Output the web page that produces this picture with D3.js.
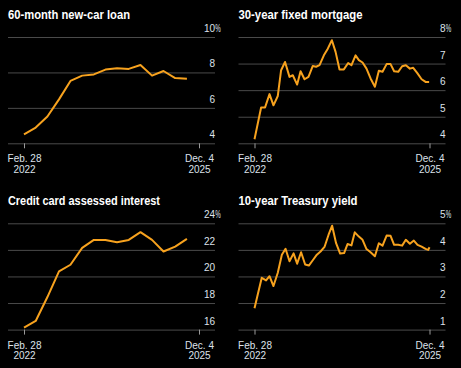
<!DOCTYPE html>
<html>
<head>
<meta charset="utf-8">
<script src="https://cdn.jsdelivr.net/npm/d3@7"></script>
<style>
  html, body { margin: 0; padding: 0; background: #000; }
  svg { display: block; font-family: "Liberation Sans", Arial, sans-serif; }
</style>
</head>
<body>
<div id="chart"></div>
<script>
// quarterly series (car loan, credit card)
const quarterDates = ["2022-02-28", "2022-05-31", "2022-08-31", "2022-11-30",
  "2023-02-28", "2023-05-31", "2023-08-31", "2023-11-30",
  "2024-02-29", "2024-05-31", "2024-08-31", "2024-11-30",
  "2025-02-28", "2025-05-31", "2025-08-31"]
const carLoan = [4.51, 4.89, 5.51, 6.48, 7.52, 7.82, 7.89, 8.16, 8.23, 8.2, 8.42, 7.82, 8.08, 7.68, 7.65]
const creditCard = [16.15, 16.65, 18.45, 20.38, 20.88, 22.15, 22.75, 22.75, 22.58, 22.75, 23.33, 22.75, 21.88, 22.25, 22.83]

// 30-year fixed mortgage
const mortgageDates = ["2022-02-28", "2022-04-21", "2022-05-22", "2022-06-26", "2022-07-27", "2022-08-30",
  "2022-09-25", "2022-10-26", "2022-11-30", "2022-12-26", "2023-01-29", "2023-02-25", "2023-03-28",
  "2023-04-28", "2023-06-01", "2023-06-27", "2023-07-24", "2023-08-27", "2023-09-27", "2023-10-29",
  "2023-11-27", "2023-12-28", "2024-01-31", "2024-03-05", "2024-03-31", "2024-05-02", "2024-05-28",
  "2024-06-26", "2024-07-27", "2024-08-28", "2024-10-01", "2024-11-01", "2024-11-30", "2025-01-01",
  "2025-02-01", "2025-03-01", "2025-04-02", "2025-05-03", "2025-06-01", "2025-07-03", "2025-07-29",
  "2025-08-29", "2025-10-03", "2025-11-03", "2025-12-01"]
const mortgage = [4.15, 5.35, 5.35, 5.85, 5.43, 5.78, 6.75, 7.06, 6.5, 6.56, 6.21, 6.71, 6.41,
  6.5, 6.91, 6.88, 6.94, 7.31, 7.56, 7.88, 7.44, 6.78, 6.78, 7.02, 6.94, 7.31, 7.13,
  7.04, 6.81, 6.44, 6.13, 6.73, 6.69, 6.98, 6.98, 6.71, 6.69, 6.9, 6.94, 6.81, 6.84,
  6.65, 6.41, 6.31, 6.31]

// 10-year Treasury yield
const treasuryDates = ["2022-02-28", "2022-03-26", "2022-04-26", "2022-05-30", "2022-06-26", "2022-07-27",
  "2022-08-30", "2022-10-01", "2022-10-30", "2022-11-30", "2023-01-01", "2023-01-29", "2023-03-01",
  "2023-04-02", "2023-05-01", "2023-06-01", "2023-07-03", "2023-08-01", "2023-09-01", "2023-10-03",
  "2023-10-31", "2023-12-01", "2024-01-02", "2024-02-02", "2024-02-29", "2024-03-31", "2024-04-26",
  "2024-05-28", "2024-06-26", "2024-07-27", "2024-08-28", "2024-10-01", "2024-11-01", "2024-11-30",
  "2025-01-01", "2025-02-01", "2025-03-01", "2025-04-02", "2025-05-03", "2025-06-01", "2025-07-03",
  "2025-08-03", "2025-09-01", "2025-10-03", "2025-11-03", "2025-11-24", "2025-12-04"]
const treasury = [1.8, 2.33, 2.95, 2.85, 3.01, 2.64, 3.14, 3.82, 4.04, 3.57, 3.87, 3.48, 3.91,
  3.45, 3.41, 3.61, 3.82, 3.94, 4.11, 4.57, 4.91, 4.25, 3.86, 3.88, 4.22, 4.17, 4.66,
  4.5, 4.38, 4.03, 3.91, 3.76, 4.25, 4.16, 4.54, 4.53, 4.19, 4.19, 4.16, 4.38, 4.23,
  4.35, 4.19, 4.12, 4.04, 4.0, 4.1]

const startDate = "2022-02-28"
const endDate = "2025-12-04"
const tickLabels = [["Feb. 28", "2022"], ["Dec. 4", "2025"]]

const carTicks = [4, 6, 8, 10]
const mortgageTicks = [4, 5, 6, 7, 8]
const cardTicks = [16, 18, 20, 22, 24]
const treasuryTicks = [1, 2, 3, 4, 5]

const width = 461
const height = 368
const parse = d3.timeParse("%Y-%m-%d")

const svg = d3.select("#chart")
  .append("svg")
  .attr("width", width)
  .attr("height", height)

svg.append("rect")
  .attr("width", width)
  .attr("height", height)
  .attr("fill", "#000")

function panel({ left, top, title, titleWidth, dates, values, ticks }) {
  const gridLeft = left + 8, gridRight = left + 215
  const plotTop = top + 37, plotBottom = top + 143.3

  const g = svg.append("g")

  const x = d3.scaleTime()
    .domain([parse(startDate), parse(endDate)])
    .range([left + 24, left + 199])

  const y = d3.scaleLinear()
    .domain(d3.extent(ticks))
    .range([plotBottom, plotTop])

  // gridlines + labels sitting above them
  g.append("g")
    .attr("transform", `translate(${gridRight},0)`)
    .call(d3.axisLeft(y).tickValues(ticks).tickSize(gridRight - gridLeft)
      .tickFormat((d, i) => d))
    .call(g => g.select(".domain").remove())
    .call(g => g.selectAll(".tick line").attr("stroke", "#4a4a4a"))
    .call(g => g.selectAll(".tick text")
      .attr("x", 0)
      .attr("dy", -5.5)
      .attr("text-anchor", "end")
      .attr("fill", "#dde2ea")
      .attr("font-size", 10)
      .attr("font-family", "Liberation Sans, Arial, sans-serif"))

  // percent sign hangs past the right edge of the top label
  g.append("text")
    .attr("x", gridRight + 0.3)
    .attr("y", y(ticks[ticks.length - 1]) - 5.5)
    .attr("fill", "#dde2ea")
    .attr("font-size", 10)
    .attr("textLength", 5.5)
    .attr("lengthAdjust", "spacingAndGlyphs")
    .text("%")

  // bottom date ticks
  const xg = g.append("g")
    .attr("transform", `translate(0,${plotBottom})`)
    .call(d3.axisBottom(x).tickValues([parse(startDate), parse(endDate)]).tickSize(5).tickFormat(""))
    .call(g => g.select(".domain").remove())
    .call(g => g.selectAll(".tick line").attr("stroke", "#9a9a9a"))

  xg.selectAll(".tick text").remove()
  xg.selectAll(".tick")
    .append("text")
    .attr("fill", "#dde2ea")
    .attr("font-size", 10)
    .attr("font-family", "Liberation Sans, Arial, sans-serif")
    .attr("text-anchor", "middle")
    .selectAll("tspan")
    .data((d, i) => tickLabels[i])
    .join("tspan")
    .attr("x", 0)
    .attr("y", (d, i) => 19 + i * 10.8)
    .text(d => d)

  const line = d3.line()
    .x((d, i) => x(parse(dates[i])))
    .y(d => y(d))

  g.append("path")
    .datum(values)
    .attr("fill", "none")
    .attr("stroke", "#f7a21e")
    .attr("stroke-width", 2)
    .attr("stroke-linejoin", "round")
    .attr("d", line)

  g.append("text")
    .attr("x", gridLeft)
    .attr("y", top + 18.5)
    .attr("fill", "#fff")
    .attr("font-weight", "bold")
    .attr("font-size", 12.5)
    .attr("textLength", titleWidth)
    .attr("lengthAdjust", "spacingAndGlyphs")
    .text(title)
}

panel({ left: 0, top: 0, title: "60-month new-car loan", titleWidth: 122, dates: quarterDates, values: carLoan, ticks: carTicks })
panel({ left: 230.5, top: 0, title: "30-year fixed mortgage", titleWidth: 124, dates: mortgageDates, values: mortgage, ticks: mortgageTicks })
panel({ left: 0, top: 186.3, title: "Credit card assessed interest", titleWidth: 152, dates: quarterDates, values: creditCard, ticks: cardTicks })
panel({ left: 230.5, top: 186.3, title: "10-year Treasury yield", titleWidth: 119, dates: treasuryDates, values: treasury, ticks: treasuryTicks })
</script>
</body>
</html>
